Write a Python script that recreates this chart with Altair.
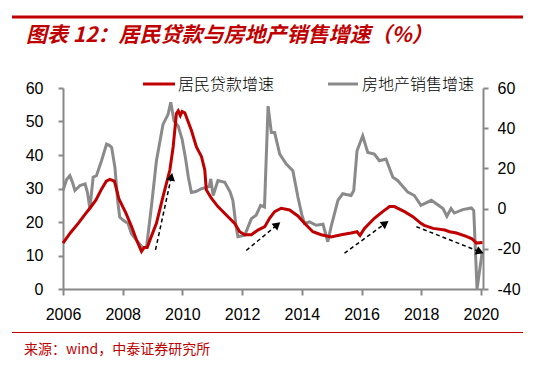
import altair as alt
import pandas as pd

# ---------------- data ----------------
loan_year = [2006.00, 2006.25, 2006.51, 2006.75, 2006.90, 2007.10, 2007.29, 2007.45, 2007.57, 2007.72,
             2007.80, 2007.87, 2008.00, 2008.10, 2008.30, 2008.46, 2008.63, 2008.72, 2008.82, 2008.96,
             2009.13, 2009.35, 2009.58, 2009.69, 2009.80, 2009.86, 2009.93, 2009.99, 2010.08, 2010.30,
             2010.47, 2010.64, 2010.75, 2010.80, 2010.97, 2011.19, 2011.47, 2011.75, 2011.92, 2012.09,
             2012.31, 2012.53, 2012.76, 2012.92, 2013.09, 2013.31, 2013.59, 2013.87, 2014.09, 2014.37,
             2014.65, 2014.98, 2015.32, 2015.65, 2015.85, 2015.95, 2016.10, 2016.43, 2016.71, 2016.94,
             2017.10, 2017.44, 2017.72, 2017.99, 2018.10, 2018.40, 2018.79, 2018.95, 2019.18, 2019.51,
             2019.70, 2019.85, 2020.05]
loan_value = [13.7, 16.8, 19.6, 22.4, 24.1, 26.5, 29.8, 32.2, 32.7, 32.2,
              29.5, 27.0, 24.6, 22.8, 18.6, 14.7, 11.2, 12.4, 12.4, 15.7,
              19.6, 27.6, 35.5, 42.4, 52.4, 53.2, 51.8, 53.0, 52.6, 47.4,
              42.4, 39.5, 35.5, 29.6, 27.1, 24.6, 22.1, 19.6, 17.1, 16.2,
              16.2, 17.6, 18.6, 21.1, 23.1, 24.1, 23.6, 21.8, 19.6, 17.1,
              16.2, 15.5, 16.2, 16.7, 17.1, 16.0, 18.1, 21.1, 23.1, 24.6,
              24.6, 23.1, 21.6, 19.6, 19.0, 18.1, 17.6, 17.1, 16.7, 15.7,
              15.0, 13.7, 13.9]

sales_year = [2006.00, 2006.12, 2006.23, 2006.32, 2006.40, 2006.57, 2006.74, 2006.82, 2006.90, 2007.01,
              2007.12, 2007.29, 2007.46, 2007.55, 2007.63, 2007.74, 2007.83, 2007.90, 2008.02, 2008.18,
              2008.29, 2008.46, 2008.69, 2008.80, 2008.96, 2009.13, 2009.35, 2009.52, 2009.61, 2009.72,
              2009.86, 2009.99, 2010.10, 2010.20, 2010.30, 2010.45, 2010.64, 2010.90, 2010.95, 2011.03,
              2011.19, 2011.42, 2011.60, 2011.69, 2011.80, 2011.86, 2012.09, 2012.31, 2012.47, 2012.62,
              2012.75, 2012.87, 2012.98, 2013.09, 2013.26, 2013.48, 2013.70, 2013.87, 2014.00, 2014.09,
              2014.26, 2014.48, 2014.71, 2014.87, 2014.98, 2015.21, 2015.37, 2015.65, 2015.74, 2015.85,
              2016.04, 2016.21, 2016.43, 2016.60, 2016.82, 2017.05, 2017.21, 2017.55, 2017.77, 2017.99,
              2018.34, 2018.73, 2018.86, 2019.00, 2019.11, 2019.39, 2019.68, 2019.76, 2019.87, 2020.04]
sales_value = [9.0, 14.5, 16.4, 13.0, 9.0, 11.5, 12.3, 8.0, 0.0, 15.6,
               16.4, 23.8, 32.1, 31.5, 30.4, 20.5, 4.1, -4.2, -5.8, -7.4,
               -12.4, -15.7, -19.8, -19.0, 0.8, 23.8, 41.9, 46.9, 52.9, 43.6,
               41.0, 34.5, 25.4, 15.6, 8.0, 8.5, 9.9, 11.0, 14.8, 6.5,
               14.0, 13.1, 8.2, 4.1, -9.0, -14.0, -13.2, -5.0, -3.3, 1.6,
               0.8, 51.0, 37.8, 37.8, 27.1, 22.2, 18.9, 5.7, -3.0, -7.4,
               -6.6, -8.3, -7.8, -16.5, -9.1, 4.1, 7.4, 6.5, 9.0, 28.8,
               36.2, 27.9, 27.1, 23.8, 24.7, 15.6, 14.0, 8.2, 6.5, 1.6,
               4.1, 0.0, -3.8, 0.0, -2.2, -0.5, 0.3, -1.0, -40.0, -22.0]

# dashed trend arrows (left-axis units)
arrow_x0 = [2009.10, 2012.14, 2015.43, 2017.84]
arrow_y0 = [11.7, 11.5, 10.7, 18.6]
arrow_x1 = [2009.63, 2013.18, 2016.80, 2019.97]
arrow_y1 = [33.5, 19.2, 19.6, 11.1]
arrow_angle = [12, 50, 54, 112]

x_ticks = [2006, 2008, 2010, 2012, 2014, 2016, 2018, 2020]
left_ticks = [0, 10, 20, 30, 40, 50, 60]
right_ticks = [-40, -20, 0, 20, 40, 60]

series_names = ["居民贷款增速", "房地产销售增速"]
title_text = "图表 12：居民贷款与房地产销售增速（%）"
source_text = "来源：wind，中泰证券研究所"

RED = "#C00000"
GRAY = "#8a8a8a"
AXIS = "#888888"

loan_df = pd.DataFrame({"year": loan_year, "value": loan_value})
sales_df = pd.DataFrame({"year": sales_year, "value": sales_value})
arrow_df = pd.DataFrame({"x0": arrow_x0, "y0": arrow_y0, "x1": arrow_x1,
                         "y1": arrow_y1, "angle": arrow_angle})
one = pd.DataFrame({"k": [0]})

xscale = alt.Scale(domain=[2006, 2020.07], nice=False, zero=False)
lscale = alt.Scale(domain=[0, 60], nice=False, zero=False)
rscale = alt.Scale(domain=[-40, 60], nice=False, zero=False)

common_axis = dict(grid=False, title=None, labelFont="Liberation Sans", labelFontSize=16,
                   labelColor="#000000", domainColor=AXIS, domainWidth=2,
                   tickColor=AXIS, tickWidth=2)

xaxis = alt.Axis(values=x_ticks, format="d", tickSize=6, labelPadding=11,
                 labelFlush=False, labelOverlap=False, **common_axis)

gray = alt.Chart(sales_df).mark_line(color=GRAY, strokeWidth=3).encode(
    x=alt.X("year:Q", scale=xscale, axis=xaxis),
    y=alt.Y("value:Q", scale=rscale,
            axis=alt.Axis(orient="right", values=right_ticks, tickSize=5, labelPadding=9,
                          labelExpr="'' + datum.value", **common_axis)),
)

red = alt.Chart(loan_df).mark_line(color=RED, strokeWidth=3).encode(
    x=alt.X("year:Q", scale=xscale, axis=xaxis),
    y=alt.Y("value:Q", scale=lscale,
            axis=alt.Axis(orient="left", values=left_ticks, tickSize=5, labelPadding=15,
                          **common_axis)),
)

arrow_lines = alt.Chart(arrow_df).mark_rule(color="#000000", strokeWidth=1.5,
                                            strokeDash=[4, 3]).encode(
    x=alt.X("x0:Q", scale=xscale, axis=xaxis),
    y=alt.Y("y0:Q", scale=lscale, axis=None),
    x2="x1:Q",
    y2="y1:Q",
)

arrow_heads = alt.Chart(arrow_df).mark_point(shape="triangle-up", filled=True, color="#000000",
                                             size=80, opacity=1).encode(
    x=alt.X("x1:Q", scale=xscale, axis=xaxis),
    y=alt.Y("y1:Q", scale=lscale, axis=None),
    angle=alt.Angle("angle:Q", scale=None),
)

# legend
leg_red_line = alt.Chart(one).mark_rule(color=RED, strokeWidth=3).encode(
    x=alt.value(80), x2=alt.value(112), y=alt.value(-4))
leg_red_text = alt.Chart(one).mark_text(align="left", baseline="middle", font="Noto Sans CJK SC",
                                        fontSize=16, fontWeight=300, color="#000000",
                                        text=series_names[0]).encode(
    x=alt.value(115), y=alt.value(-3))
leg_gray_line = alt.Chart(one).mark_rule(color=GRAY, strokeWidth=3).encode(
    x=alt.value(265), x2=alt.value(295), y=alt.value(-4))
leg_gray_text = alt.Chart(one).mark_text(align="left", baseline="middle", font="Noto Sans CJK SC",
                                         fontSize=16, fontWeight=300, color="#000000",
                                         text=series_names[1]).encode(
    x=alt.value(299), y=alt.value(-3))

# title and source decorations
top_rule = alt.Chart(one).mark_rule(color=RED, strokeWidth=3).encode(
    x=alt.value(-51), x2=alt.value(465), y=alt.value(-71))
title_mark = alt.Chart(one).mark_text(align="left", baseline="middle", font="Noto Sans CJK SC",
                                      fontSize=21, fontWeight="bold", fontStyle="italic",
                                      color=RED, text=title_text).encode(
    x=alt.value(-37), y=alt.value(-52))
bottom_rule = alt.Chart(one).mark_rule(color=RED, strokeWidth=1).encode(
    x=alt.value(-51), x2=alt.value(465), y=alt.value(244.5))
source_mark = alt.Chart(one).mark_text(align="left", baseline="middle", font="Noto Sans CJK SC",
                                       fontSize=14, color=RED, text=source_text).encode(
    x=alt.value(-39), y=alt.value(262))

chart = alt.layer(
    gray, red, arrow_lines, arrow_heads,
    leg_red_line, leg_red_text, leg_gray_line, leg_gray_text,
    top_rule, title_mark, bottom_rule, source_mark,
).resolve_scale(y="independent").properties(
    width=420, height=201,
    autosize=alt.AutoSizeParams(type="none"),
    padding={"left": 55, "top": 80, "right": 40, "bottom": 68},
).configure_view(stroke="transparent")

chart.save("out.html", embed_options={"renderer": "svg", "actions": False})
